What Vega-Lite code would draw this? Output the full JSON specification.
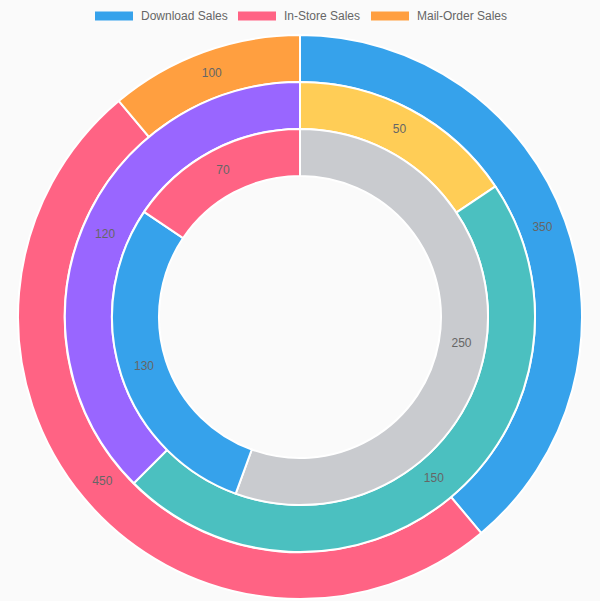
{
  "$schema": "https://vega.github.io/schema/vega-lite/v6.json",
  "width": 600,
  "height": 634,
  "autosize": {"type": "none"},
  "padding": 0,
  "background": "#fafafa",
  "config": {"view": {"stroke": null}, "font": "Liberation Sans"},
  "data": {
    "values": [
      {"ring": "outer", "key": "Download Sales", "ord": 1, "value": 350},
      {"ring": "outer", "key": "In-Store Sales", "ord": 2, "value": 450},
      {"ring": "outer", "key": "Mail-Order Sales", "ord": 3, "value": 100},
      {"ring": "middle", "key": "m1", "ord": 1, "value": 50},
      {"ring": "middle", "key": "m2", "ord": 2, "value": 150},
      {"ring": "middle", "key": "m3", "ord": 3, "value": 120},
      {"ring": "inner", "key": "i1", "ord": 1, "value": 250},
      {"ring": "inner", "key": "i2", "ord": 2, "value": 130},
      {"ring": "inner", "key": "i3", "ord": 3, "value": 70}
    ]
  },
  "encoding": {
    "theta": {"field": "value", "type": "quantitative", "stack": "normalize", "scale": {"domain": [0, 1]}},
    "order": {"field": "ord", "type": "quantitative"}
  },
  "layer": [
    {
      "transform": [{"filter": "datum.ring === 'outer'"}],
      "layer": [
        {"mark": {"type": "arc", "outerRadius": 282, "innerRadius": 235, "stroke": "#ffffff", "strokeWidth": 2},
         "encoding": {"color": {"field": "key", "type": "nominal",
           "scale": {"domain": ["Download Sales", "In-Store Sales", "Mail-Order Sales", "m1", "m2", "m3", "i1", "i2", "i3"],
                     "range": ["#36A2EB", "#FF6384", "#FF9F40", "#FFCD56", "#4BC0C0", "#9966FF", "#C9CBCF", "#36A2EB", "#FF6384"]},
           "legend": {"values": ["Download Sales", "In-Store Sales", "Mail-Order Sales"], "title": null, "orient": "none", "direction": "horizontal",
             "legendX": 95, "legendY": -3, "symbolType": "M-1,-0.24H1V0.24H-1Z", "symbolSize": 1444, "symbolStrokeWidth": 0,
             "labelFontSize": 12, "labelColor": "#666666", "labelOffset": 8, "columnPadding": 10, "symbolOpacity": 1}}}},
        {"mark": {"type": "text", "radius": 258, "fontSize": 12, "fill": "#666666", "dy": -2}, "encoding": {"text": {"field": "value"}}}
      ]
    },
    {
      "transform": [{"filter": "datum.ring === 'middle'"}],
      "layer": [
        {"mark": {"type": "arc", "outerRadius": 235, "innerRadius": 188, "stroke": "#ffffff", "strokeWidth": 2},
         "encoding": {"color": {"field": "key", "type": "nominal"}}},
        {"mark": {"type": "text", "radius": 211, "fontSize": 12, "fill": "#666666", "dy": -2}, "encoding": {"text": {"field": "value"}}}
      ]
    },
    {
      "transform": [{"filter": "datum.ring === 'inner'"}],
      "layer": [
        {"mark": {"type": "arc", "outerRadius": 188, "innerRadius": 141, "stroke": "#ffffff", "strokeWidth": 2},
         "encoding": {"color": {"field": "key", "type": "nominal"}}},
        {"mark": {"type": "text", "radius": 164, "fontSize": 12, "fill": "#666666", "dy": -2}, "encoding": {"text": {"field": "value"}}}
      ]
    }
  ]
}
